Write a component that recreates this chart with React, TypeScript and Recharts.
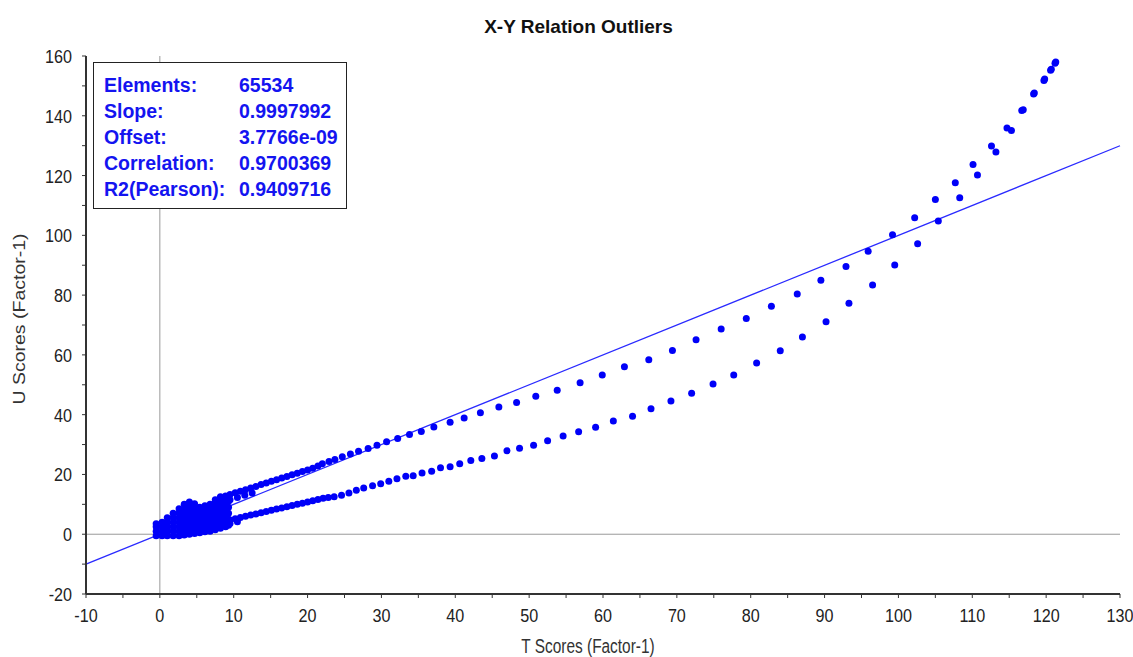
import React from "react";
import { ScatterChart, Scatter, XAxis, YAxis, ReferenceLine } from "recharts";

const title = "X-Y Relation Outliers";
const xLabel = "T Scores (Factor-1)";
const yLabel = "U Scores (Factor-1)";

const xTicks = [-10, -5, 0, 5, 10, 15, 20, 25, 30, 35, 40, 45, 50, 55, 60, 65, 70, 75, 80, 85, 90, 95, 100, 105, 110, 115, 120, 125, 130];
const yTicks = [-20, -10, 0, 10, 20, 30, 40, 50, 60, 70, 80, 90, 100, 110, 120, 130, 140, 150, 160];

const statLabels = ["Elements:", "Slope:", "Offset:", "Correlation:", "R2(Pearson):"];
const statValues = ["65534", "0.9997992", "3.7766e-09", "0.9700369", "0.9409716"];
const slope = 0.9997992;
const offset = 3.7766e-9;
const lineXs = [-10, 130];

// dense cluster near the origin
const blobPoints: [number, number][] = [
  [-0.5, -0.5], [-0.5, 1], [-0.5, 2.5], [-0.5, 3.5],
  [0.3, -0.5], [0.3, 1], [0.3, 2.5], [0.3, 4],
  [1.0, -0.5], [1.0, 1], [1.0, 2.5], [1.0, 4], [1.0, 5.5],
  [1.8, -0.5], [1.8, 1], [1.8, 2.5], [1.8, 4], [1.8, 5.5], [1.8, 7],
  [2.6, -0.5], [2.6, 1], [2.6, 2.5], [2.6, 4], [2.6, 5.5], [2.6, 7], [2.6, 8.5],
  [3.3, -0.3], [3.3, 1], [3.3, 2.5], [3.3, 4], [3.3, 5.5], [3.3, 7], [3.3, 8.5], [3.3, 10],
  [4.0, 0], [4.0, 1.5], [4.0, 3], [4.0, 4.5], [4.0, 6], [4.0, 7.5], [4.0, 9], [4.0, 10.8],
  [4.7, 0.2], [4.7, 1.5], [4.7, 3], [4.7, 4.5], [4.7, 6], [4.7, 7.5], [4.7, 9], [4.7, 10.2],
  [5.4, 0.5], [5.4, 2], [5.4, 3.5], [5.4, 5], [5.4, 6.5], [5.4, 8], [5.4, 9],
  [6.1, 0.8], [6.1, 2], [6.1, 3.5], [6.1, 5], [6.1, 6.5], [6.1, 8], [6.1, 9.5],
  [6.8, 1], [6.8, 2.5], [6.8, 4], [6.8, 5.5], [6.8, 7], [6.8, 8.5], [6.8, 10],
  [7.5, 1.5], [7.5, 3], [7.5, 4.5], [7.5, 6], [7.5, 7.5], [7.5, 9], [7.5, 10.5], [7.5, 11.5],
  [8.2, 2], [8.2, 3.5], [8.2, 5], [8.2, 6.5], [8.2, 8], [8.2, 9.5], [8.2, 11], [8.2, 12.5],
  [8.9, 2.5], [8.9, 4], [8.9, 5.5], [8.9, 7], [8.9, 8.5], [8.9, 10], [8.9, 11.5], [8.9, 12.8],
  [9.3, 3], [9.3, 5], [9.3, 7], [9.3, 9], [9.3, 11], [9.3, 12.5],
];

const upperArm: [number, number][] = [
  [9.5, 11.5], [10.5, 12.3], [11.5, 13.0], [12.5, 13.8],
  [9.5, 13.3], [10.2, 13.9], [10.9, 14.4], [11.6, 14.9], [12.3, 15.5], [13.0, 16.0], [13.7, 16.6],
  [14.4, 17.1], [15.1, 17.7], [15.8, 18.2], [16.5, 18.8], [17.2, 19.3], [17.9, 19.9], [18.6, 20.4],
  [19.3, 21.0], [20.0, 21.5], [20.7, 22.1], [21.4, 22.8], [22.0, 23.6],
  [22.9, 24.3], [23.7, 25.0], [24.7, 25.9], [25.8, 26.8], [26.9, 27.8], [28.2, 28.7], [29.4, 29.8],
  [30.7, 30.9], [32.2, 32.0], [33.8, 33.4], [35.4, 34.4], [37.1, 35.9], [39.3, 37.5], [41.2, 38.9],
  [43.4, 40.6], [45.9, 42.6], [48.3, 44.1], [50.9, 46.2], [53.8, 48.2], [56.9, 50.7], [59.9, 53.3],
  [62.9, 56.0], [66.2, 58.4], [69.4, 61.5], [72.6, 65.1], [76.0, 68.7], [79.4, 72.2], [82.8, 76.3],
  [86.3, 80.4], [89.5, 85.0], [92.9, 89.6], [95.9, 94.7], [99.2, 100.2], [102.2, 105.9], [105.0, 112.0],
  [107.7, 117.6], [110.1, 123.7], [112.6, 129.9], [114.7, 135.9], [116.7, 141.8], [118.3, 147.3],
  [119.7, 151.8], [120.6, 155.2], [121.2, 157.6],
];

const lowerArm: [number, number][] = [
  [9.5, 3.6], [10.5, 4.2],
  [9.5, 4.8], [10.2, 5.2], [10.9, 5.6], [11.6, 6.0], [12.3, 6.4], [13.0, 6.8], [13.7, 7.2],
  [14.4, 7.6], [15.1, 8.0], [15.8, 8.4], [16.5, 8.8], [17.2, 9.2], [17.9, 9.6], [18.6, 10.0],
  [19.3, 10.4], [20.0, 10.8], [20.7, 11.2], [21.4, 11.6], [22.1, 12.0], [22.8, 12.3], [23.6, 12.5],
  [24.6, 13.0], [25.6, 13.8], [26.6, 14.7], [27.6, 15.5], [28.8, 16.2], [29.9, 16.9], [31.0, 17.7],
  [32.1, 18.6], [33.3, 19.4], [34.3, 19.6], [35.5, 20.5], [36.8, 21.1], [38.0, 22.2], [39.3, 22.6],
  [40.6, 23.6], [42.1, 24.7], [43.6, 25.3], [45.3, 26.2], [47.0, 27.9], [48.7, 28.8], [50.6, 29.8],
  [52.5, 31.3], [54.6, 32.9], [56.7, 34.3], [59.0, 35.8], [61.4, 37.9], [64.0, 39.5], [66.5, 42.0],
  [69.2, 44.6], [72.0, 47.2], [74.9, 50.3], [77.7, 53.3], [80.8, 57.3], [84.0, 61.4], [87.0, 66.0],
  [90.2, 71.1], [93.3, 77.3], [96.5, 83.4], [99.5, 90.1], [102.6, 97.2], [105.4, 104.8],
  [108.3, 112.6], [110.7, 120.2], [113.2, 127.9], [115.3, 135.1], [116.9, 142.0], [118.4, 147.6],
  [119.8, 152.3], [120.7, 155.6], [121.3, 158.0],
];

const toObj = (arr: [number, number][]) => arr.map(([x, y]) => ({ x, y }));

const DOT = "#0000f8";
const FONT = "'Liberation Sans', Arial, sans-serif";

const Dot = (props: any) => {
  if (props.cx == null || props.cy == null) return <g />;
  return <circle cx={props.cx} cy={props.cy} r={3.5} fill={DOT} />;
};

const XTick = (props: any) => {
  const { x, y, payload } = props;
  if (payload.value % 10 !== 0) return <g />;
  return (
    <text
      transform={`translate(${x},${y + 22}) scale(0.85,1)`}
      textAnchor="middle"
      fontSize={19}
      fontFamily={FONT}
      fill="#222"
    >
      {payload.value}
    </text>
  );
};

const YTick = (props: any) => {
  const { x, y, payload } = props;
  if (payload.value % 20 !== 0) return <g />;
  return (
    <text
      transform={`translate(${x},${y + 7}) scale(0.85,1)`}
      textAnchor="end"
      fontSize={19}
      fontFamily={FONT}
      fill="#222"
    >
      {payload.value}
    </text>
  );
};

export default function App() {
  return (
    <div style={{ position: "relative", width: 1133, height: 657, fontFamily: FONT }}>
      <style>{`html{overflow:hidden} body{margin:0} .recharts-surface{overflow:visible}`}</style>
      <ScatterChart width={1133} height={657} margin={{ top: 56, right: 13, left: 8, bottom: 8 }}>
        <XAxis
          type="number"
          dataKey="x"
          domain={[-10, 130]}
          ticks={xTicks}
          interval={0}
          allowDataOverflow
          height={55}
          tick={<XTick />}
          tickSize={4}
          axisLine={{ stroke: "#333", strokeWidth: 2 }}
          tickLine={{ stroke: "#333" }}
        />
        <YAxis
          type="number"
          dataKey="y"
          domain={[-20, 160]}
          ticks={yTicks}
          interval={0}
          allowDataOverflow
          width={78}
          tick={<YTick />}
          tickSize={4}
          tickMargin={10}
          axisLine={{ stroke: "#333", strokeWidth: 2 }}
          tickLine={{ stroke: "#333" }}
        />
        <ReferenceLine x={0} stroke="#999" strokeWidth={1} />
        <ReferenceLine y={0} stroke="#999" strokeWidth={1} />
        <ReferenceLine
          segment={[
            { x: lineXs[0], y: slope * lineXs[0] + offset },
            { x: lineXs[1], y: slope * lineXs[1] + offset },
          ]}
          stroke="#2a2aff"
          strokeWidth={1.3}
          ifOverflow="visible"
        />
        <Scatter data={toObj(blobPoints)} shape={<Dot />} isAnimationActive={false} />
        <Scatter data={toObj(upperArm)} shape={<Dot />} isAnimationActive={false} />
        <Scatter data={toObj(lowerArm)} shape={<Dot />} isAnimationActive={false} />
      </ScatterChart>

      <div
        style={{
          position: "absolute",
          left: 0,
          top: 16,
          width: 1133,
          textAlign: "center",
          fontWeight: "bold",
          fontSize: 19,
          lineHeight: "22px",
          color: "#111",
          paddingLeft: 24,
          boxSizing: "border-box",
        }}
      >
        {title}
      </div>

      <div
        style={{
          position: "absolute",
          left: 588,
          top: 636,
          transform: "translateX(-50%) scaleX(0.79)",
          fontSize: 19.5,
          lineHeight: "20px",
          color: "#333",
          whiteSpace: "nowrap",
        }}
      >
        {xLabel}
      </div>

      <div
        style={{
          position: "absolute",
          left: 19,
          top: 319,
          transform: "translate(-50%,-50%) rotate(-90deg) scaleY(0.85)",
          fontSize: 19.5,
          lineHeight: "20px",
          color: "#333",
          whiteSpace: "nowrap",
        }}
      >
        {yLabel}
      </div>

      <div
        style={{
          position: "absolute",
          left: 93,
          top: 62,
          width: 254,
          height: 147,
          border: "1.5px solid #222",
          background: "#fff",
          boxSizing: "border-box",
          paddingTop: 9,
          paddingLeft: 10,
          fontWeight: "bold",
          fontSize: 19.5,
          lineHeight: "26px",
          color: "#1414f0",
        }}
      >
        {statLabels.map((l, i) => (
          <div key={l} style={{ display: "flex", whiteSpace: "nowrap" }}>
            <span style={{ width: 135, display: "inline-block" }}>{l}</span>
            <span>{statValues[i]}</span>
          </div>
        ))}
      </div>
    </div>
  );
}
